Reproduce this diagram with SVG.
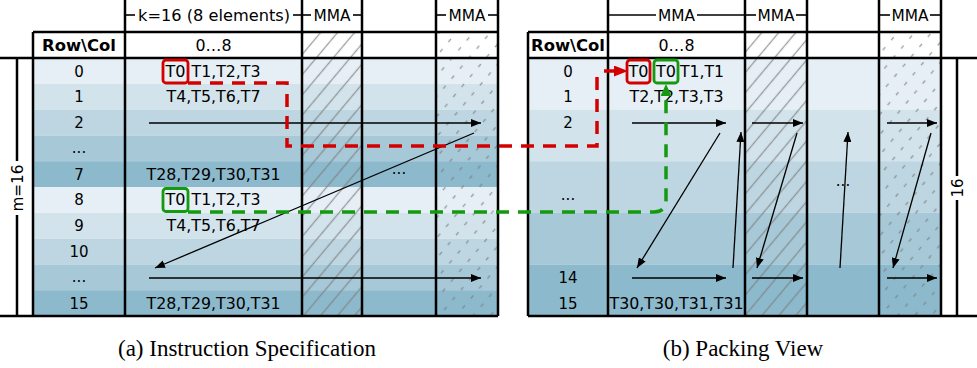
<svg xmlns="http://www.w3.org/2000/svg" width="977" height="368" viewBox="0 0 977 368">
<defs>
<style>
.t{font-family:"DejaVu Sans",Verdana,sans-serif;font-size:15px;fill:#000;text-anchor:middle}
.b{font-weight:bold}
.s{text-anchor:start}
.cap{font-family:"Liberation Serif","Times New Roman",serif;font-size:23px;text-anchor:middle;fill:#000}
.frame{stroke:#000;stroke-width:2.5;fill:none}
.dim{stroke:#000;stroke-width:1.6;fill:none}
.arr{stroke:#000;stroke-width:1.3;fill:none;marker-end:url(#ah)}
.b1{fill:#e6eff5}.b2{fill:#d2e3eb}.b3{fill:#bdd6e1}.b4{fill:#a6c8d7}.b5{fill:#8cb9cc}
.red{stroke:#d40000;stroke-width:3.5;fill:none;stroke-dasharray:13 9}
.grn{stroke:#14990f;stroke-width:3.5;fill:none;stroke-dasharray:13 9}
.rbox{stroke:#d40000;stroke-width:2.8;fill:none}
.gbox{stroke:#14990f;stroke-width:2.8;fill:none}
</style>
<marker id="ah" viewBox="0 0 10 8" refX="10" refY="4" markerWidth="10" markerHeight="8" markerUnits="userSpaceOnUse" orient="auto"><path d="M0,0 L10,4 L0,8 z" fill="#000"/></marker>
<marker id="ahr" viewBox="0 0 14 11" refX="0" refY="5.5" markerWidth="14" markerHeight="11" markerUnits="userSpaceOnUse" orient="auto"><path d="M0,0 L14,5.5 L0,11 z" fill="#d40000"/></marker>
<marker id="ahg" viewBox="0 0 12 11" refX="0" refY="5.5" markerWidth="12" markerHeight="11" markerUnits="userSpaceOnUse" orient="auto"><path d="M0,0 L12,5.5 L0,11 z" fill="#14990f"/></marker>
<pattern id="hatch" patternUnits="userSpaceOnUse" width="13" height="13" patternTransform="rotate(40)"><line x1="6.5" y1="0" x2="6.5" y2="13" stroke="#7d7d7d" stroke-width="1.3" stroke-opacity="0.75"/></pattern>
<pattern id="dhatch" patternUnits="userSpaceOnUse" width="13" height="13" patternTransform="rotate(40)"><line x1="6.5" y1="0" x2="6.5" y2="13" stroke="#7d7d7d" stroke-width="1.3" stroke-opacity="0.75" stroke-dasharray="4 9"/></pattern>
</defs>
<rect width="977" height="368" fill="#fff"/>

<g id="table-a">
  <g id="a-bands">
    <rect class="b1" x="33" y="58" width="465" height="25.8"/>
    <rect class="b2" x="33" y="83.8" width="465" height="25.8"/>
    <rect class="b3" x="33" y="109.6" width="465" height="25.8"/>
    <rect class="b4" x="33" y="135.4" width="465" height="25.8"/>
    <rect class="b5" x="33" y="161.2" width="465" height="25.8"/>
    <rect class="b1" x="33" y="187" width="465" height="25.8"/>
    <rect class="b2" x="33" y="212.8" width="465" height="25.8"/>
    <rect class="b3" x="33" y="238.6" width="465" height="25.8"/>
    <rect class="b4" x="33" y="264.4" width="465" height="25.8"/>
    <rect class="b5" x="33" y="290.2" width="465" height="25.8"/>
  </g>
  <rect x="302" y="32" width="60" height="284" fill="url(#hatch)"/>
  <rect x="436" y="32" width="62" height="284" fill="url(#dhatch)"/>
  <g id="a-lines" class="frame">
    <line x1="33" y1="32" x2="498" y2="32"/>
    <line x1="0" y1="58" x2="498" y2="58"/>
    <line x1="0" y1="316" x2="498" y2="316"/>
    <line x1="33" y1="32" x2="33" y2="316"/>
    <line x1="17" y1="58" x2="17" y2="161"/>
    <line x1="17" y1="215" x2="17" y2="316"/>
    <line x1="125" y1="0" x2="125" y2="316"/>
    <line x1="302" y1="0" x2="302" y2="316"/>
    <line x1="362" y1="0" x2="362" y2="316"/>
    <line x1="436" y1="0" x2="436" y2="316"/>
    <line x1="498" y1="0" x2="498" y2="316"/>
  </g>
  <g id="a-dims" class="dim">
    <line x1="125" y1="15" x2="135" y2="15"/>
    <line x1="293" y1="15" x2="302" y2="15"/>
    <line x1="302" y1="15" x2="311" y2="15"/>
    <line x1="353" y1="15" x2="362" y2="15"/>
    <line x1="436" y1="15" x2="446" y2="15"/>
    <line x1="488" y1="15" x2="498" y2="15"/>
  </g>
  <text class="t" x="214" y="20.5" textLength="152" lengthAdjust="spacingAndGlyphs">k=16 (8 elements)</text>
  <text class="t" x="332" y="20.5" textLength="37" lengthAdjust="spacingAndGlyphs">MMA</text>
  <text class="t" x="467" y="20.5" textLength="37" lengthAdjust="spacingAndGlyphs">MMA</text>
  <text class="t" transform="translate(22.5,188) rotate(-90)" x="0" y="0" textLength="47" lengthAdjust="spacingAndGlyphs">m=16</text>
  <text class="t b" x="79" y="50.5" textLength="74" lengthAdjust="spacingAndGlyphs">Row\Col</text>
  <text class="t" x="213.5" y="50.5" textLength="36" lengthAdjust="spacingAndGlyphs">0…8</text>
  <g id="a-rowlabels">
    <text class="t" x="79" y="76.5">0</text>
    <text class="t" x="79" y="102.3">1</text>
    <text class="t" x="79" y="128">2</text>
    <text class="t" x="79" y="153">...</text>
    <text class="t" x="79" y="179.6">7</text>
    <text class="t" x="79" y="205.4">8</text>
    <text class="t" x="79" y="231.2">9</text>
    <text class="t" x="79" y="257">10</text>
    <text class="t" x="79" y="282">...</text>
    <text class="t" x="79" y="308.6">15</text>
  </g>
  <g id="a-cells">
    <text class="t" x="175.5" y="76.5" textLength="20" lengthAdjust="spacingAndGlyphs">T0</text>
    <text class="t s" x="191.5" y="76.5" textLength="69" lengthAdjust="spacingAndGlyphs">T1,T2,T3</text>
    <text class="t" x="213.5" y="102.3" textLength="94" lengthAdjust="spacingAndGlyphs">T4,T5,T6,T7</text>
    <text class="t" x="213.5" y="179.6" textLength="134" lengthAdjust="spacingAndGlyphs">T28,T29,T30,T31</text>
    <text class="t" x="175.5" y="205.4" textLength="20" lengthAdjust="spacingAndGlyphs">T0</text>
    <text class="t s" x="191.5" y="205.4" textLength="69" lengthAdjust="spacingAndGlyphs">T1,T2,T3</text>
    <text class="t" x="213.5" y="231.2" textLength="94" lengthAdjust="spacingAndGlyphs">T4,T5,T6,T7</text>
    <text class="t" x="213.5" y="308.6" textLength="134" lengthAdjust="spacingAndGlyphs">T28,T29,T30,T31</text>
    <text class="t" x="399" y="174">...</text>
  </g>
  <rect class="rbox" x="163" y="60" width="25" height="23" rx="3"/>
  <rect class="gbox" x="163" y="188.5" width="25" height="23" rx="3"/>
</g>

<g id="table-b">
  <g id="b-bands">
    <rect class="b1" x="528" y="58" width="413" height="51.6"/>
    <rect class="b2" x="528" y="109.6" width="413" height="51.6"/>
    <rect class="b3" x="528" y="161.2" width="413" height="51.6"/>
    <rect class="b4" x="528" y="212.8" width="413" height="51.6"/>
    <rect class="b5" x="528" y="264.4" width="413" height="51.6"/>
  </g>
  <rect x="745" y="32" width="62" height="284" fill="url(#hatch)"/>
  <rect x="879" y="32" width="62" height="284" fill="url(#dhatch)"/>
  <g id="b-lines" class="frame">
    <line x1="528" y1="32" x2="941" y2="32"/>
    <line x1="528" y1="58" x2="977" y2="58"/>
    <line x1="528" y1="316" x2="977" y2="316"/>
    <line x1="528" y1="32" x2="528" y2="316"/>
    <line x1="957" y1="58" x2="957" y2="176"/>
    <line x1="957" y1="200" x2="957" y2="316"/>
    <line x1="608" y1="0" x2="608" y2="316"/>
    <line x1="745" y1="0" x2="745" y2="316"/>
    <line x1="807" y1="0" x2="807" y2="316"/>
    <line x1="879" y1="0" x2="879" y2="316"/>
    <line x1="941" y1="0" x2="941" y2="316"/>
  </g>
  <g id="b-dims" class="dim">
    <line x1="608" y1="15" x2="656" y2="15"/>
    <line x1="697" y1="15" x2="745" y2="15"/>
    <line x1="745" y1="15" x2="756" y2="15"/>
    <line x1="796" y1="15" x2="807" y2="15"/>
    <line x1="879" y1="15" x2="890" y2="15"/>
    <line x1="930" y1="15" x2="941" y2="15"/>
  </g>
  <text class="t" x="676.5" y="20.5" textLength="37" lengthAdjust="spacingAndGlyphs">MMA</text>
  <text class="t" x="776" y="20.5" textLength="37" lengthAdjust="spacingAndGlyphs">MMA</text>
  <text class="t" x="910" y="20.5" textLength="37" lengthAdjust="spacingAndGlyphs">MMA</text>
  <text class="t" transform="translate(962.5,188) rotate(-90)" x="0" y="0">16</text>
  <text class="t b" x="568" y="50.5" textLength="74" lengthAdjust="spacingAndGlyphs">Row\Col</text>
  <text class="t" x="676.5" y="50.5" textLength="36" lengthAdjust="spacingAndGlyphs">0…8</text>
  <g id="b-rowlabels">
    <text class="t" x="568" y="76.5">0</text>
    <text class="t" x="568" y="102.3">1</text>
    <text class="t" x="568" y="128">2</text>
    <text class="t" x="568" y="200">...</text>
    <text class="t" x="568" y="282.8">14</text>
    <text class="t" x="568" y="308.6">15</text>
  </g>
  <g id="b-cells">
    <text class="t" x="638.5" y="76.5" textLength="20" lengthAdjust="spacingAndGlyphs">T0</text>
    <text class="t" x="666" y="76.5" textLength="20" lengthAdjust="spacingAndGlyphs">T0</text>
    <text class="t s" x="680" y="76.5" textLength="44" lengthAdjust="spacingAndGlyphs">T1,T1</text>
    <text class="t" x="676.5" y="102.3" textLength="94" lengthAdjust="spacingAndGlyphs">T2,T2,T3,T3</text>
    <text class="t" x="676.5" y="308.6" textLength="134" lengthAdjust="spacingAndGlyphs">T30,T30,T31,T31</text>
    <text class="t" x="843" y="185.5">...</text>
  </g>
  <rect class="rbox" x="627" y="60" width="23" height="23" rx="3"/>
  <rect class="gbox" x="654" y="60" width="24" height="23" rx="3"/>
</g>

<g id="connectors">
  <line class="arr" x1="149" y1="123" x2="481" y2="123"/>
  <line class="arr" x1="474" y1="133" x2="155" y2="268"/>
  <line class="arr" x1="149" y1="278" x2="481" y2="278"/>
  <line class="arr" x1="632" y1="123" x2="726" y2="123"/>
  <line class="arr" x1="720" y1="133" x2="637" y2="268"/>
  <line class="arr" x1="632" y1="278" x2="726" y2="278"/>
  <line class="arr" x1="733" y1="268" x2="741" y2="132"/>
  <line class="arr" x1="752" y1="123" x2="803" y2="123"/>
  <line class="arr" x1="797" y1="133" x2="757" y2="268"/>
  <line class="arr" x1="752" y1="278" x2="803" y2="278"/>
  <line class="arr" x1="840" y1="268" x2="848" y2="132"/>
  <line class="arr" x1="887" y1="123" x2="937" y2="123"/>
  <line class="arr" x1="931" y1="133" x2="893" y2="268"/>
  <line class="arr" x1="887" y1="278" x2="937" y2="278"/>
  <path class="red" d="M188,83 H287 V146 H597 V73"/>
  <line x1="604" y1="71" x2="614" y2="71" stroke="#d40000" stroke-width="3.5" marker-end="url(#ahr)"/>
  <path class="grn" d="M188,212 H654 Q666,212 666,200 V96" marker-end="url(#ahg)"/>
</g>

<text class="cap" x="247" y="356">(a) Instruction Specification</text>
<text class="cap" x="743" y="356">(b) Packing View</text>
</svg>
